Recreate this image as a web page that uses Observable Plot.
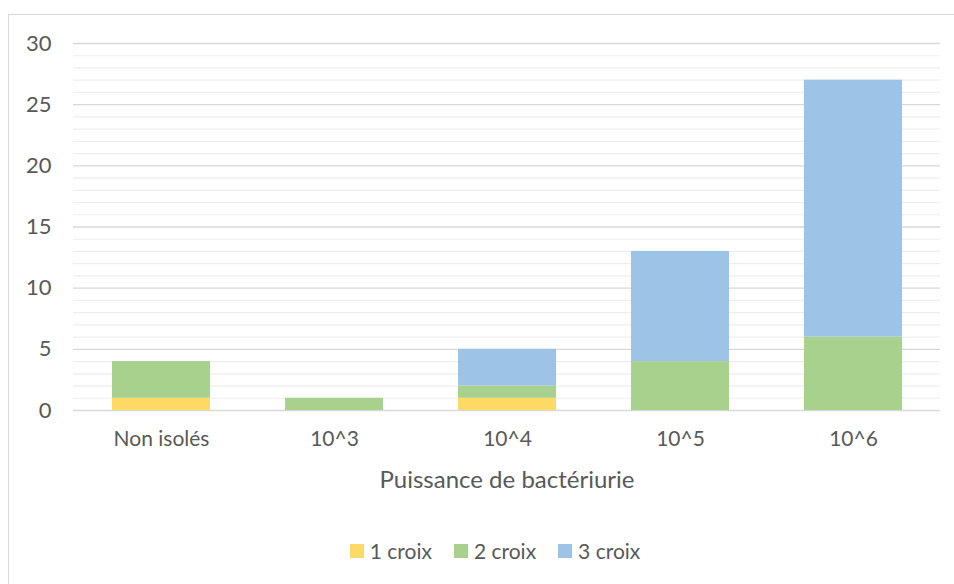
<!DOCTYPE html>
<html>
<head>
<meta charset="utf-8">
<script src="https://cdn.jsdelivr.net/npm/d3@7"></script>
<script src="https://cdn.jsdelivr.net/npm/@observablehq/plot@0.6"></script>
<style>
  html, body { margin: 0; padding: 0; background: #fff; }
  body { width: 954px; height: 584px; position: relative; overflow: hidden; font-family: Lato, "Open Sans", sans-serif; }
  #frame { position: absolute; left: 8px; top: 14px; width: 1000px; height: 700px; border: 1px solid #D9D9D9; box-sizing: border-box; }
  #chart { position: absolute; left: 0; top: 0; }
  #chart svg g[aria-label="y-axis tick label"] text { font-size: 22px; }
  #chart svg g[aria-label="x-axis tick label"] text { font-size: 21px; }
  #chart svg g[aria-label="text"] text { font-size: 24px; }
  #legend { position: absolute; left: 0; top: 538px; width: 954px; display: flex; justify-content: center; font-size: 21px; color: #595959; padding-left: 36px; box-sizing: border-box; }
  .item { display: flex; align-items: center; margin: 0 11px; }
  .sw { width: 14px; height: 14px; margin-right: 6px; }
</style>
</head>
<body>
<div id="frame"></div>
<div id="chart"></div>
<div id="legend"></div>
<script>
const categories = ["Non isolés", "10^3", "10^4", "10^5", "10^6"];
const seriesNames = ["1 croix", "2 croix", "3 croix"];
const croix1 = [1, 0, 1, 0, 0];
const croix2 = [3, 1, 1, 4, 6];
const croix3 = [0, 0, 3, 9, 21];
const colors = ["#FFD966", "#A9D18E", "#9DC3E6"];
const yTicks = [0, 5, 10, 15, 20, 25, 30];
const xTitle = "Puissance de bactériurie";

const seriesValues = [croix1, croix2, croix3];
const data = [];
seriesNames.forEach((s, si) => {
  categories.forEach((c, ci) => {
    data.push({category: c, series: s, value: seriesValues[si][ci]});
  });
});
const minor = d3.range(0, 31).filter(v => v % 5 !== 0);

const plot = Plot.plot({
  width: 954,
  height: 510,
  marginLeft: 73,
  marginRight: 14,
  marginTop: 43,
  marginBottom: 100,
  style: {fontFamily: "Lato, 'Open Sans', sans-serif", fontSize: "21px", color: "#595959", background: "transparent"},
  x: {domain: categories, paddingInner: 0.435, paddingOuter: 0.2175, label: null},
  y: {domain: [0, 30], label: null},
  color: {domain: seriesNames, range: colors},
  marks: [
    Plot.ruleY(minor, {stroke: "#EEEEEE", strokeWidth: 1.2}),
    Plot.ruleY(yTicks, {stroke: "#D9D9D9", strokeWidth: 1.3}),
    Plot.barY(data, Plot.stackY({x: "category", y: "value", fill: "series", order: seriesNames})),
    Plot.axisY(yTicks, {tickSize: 0, tickPadding: 22, fontSize: 22, label: null}),
    Plot.axisX({tickSize: 0, tickPadding: 21, fontSize: 21, label: null}),
    Plot.text([xTitle], {frameAnchor: "bottom", dy: 77, fontSize: 24, fill: "#595959"})
  ]
});
document.getElementById("chart").appendChild(plot);

const legend = document.getElementById("legend");
seriesNames.forEach((s, i) => {
  const it = document.createElement("div");
  it.className = "item";
  const sw = document.createElement("div");
  sw.className = "sw";
  sw.style.background = colors[i];
  const t = document.createElement("span");
  t.textContent = s;
  it.appendChild(sw);
  it.appendChild(t);
  legend.appendChild(it);
});
</script>
</body>
</html>
